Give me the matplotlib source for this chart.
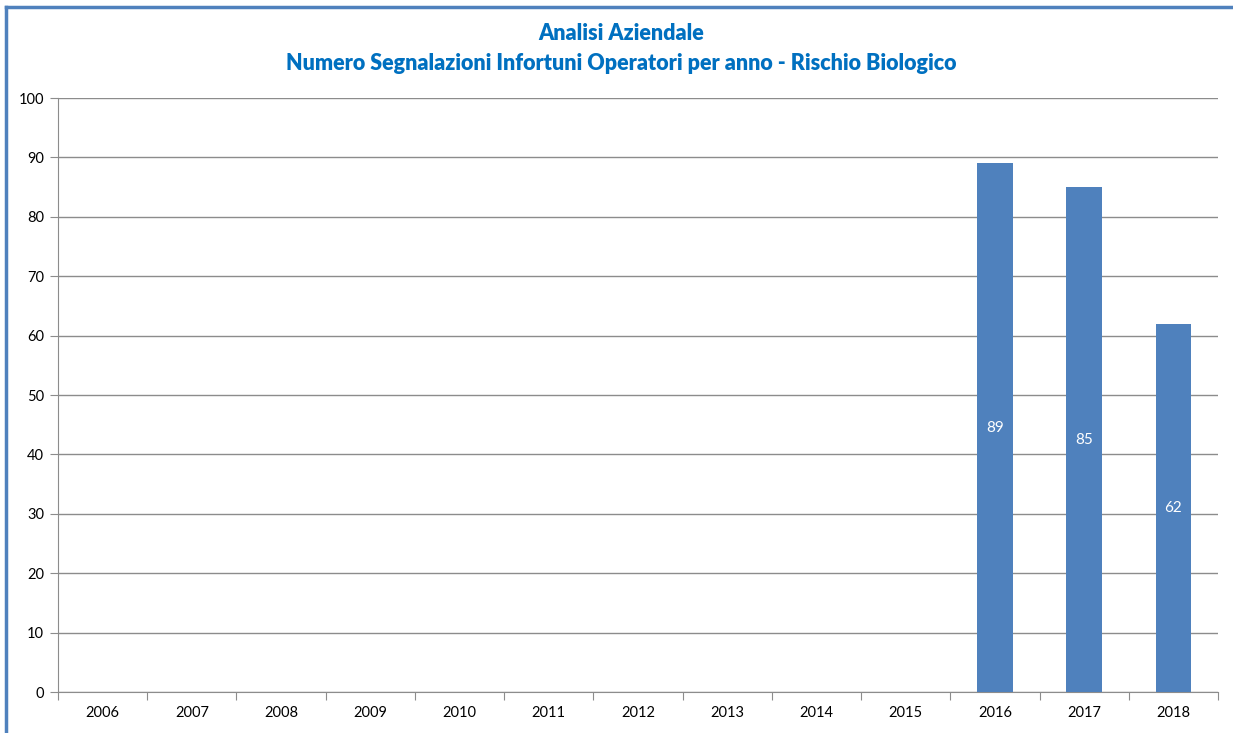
import matplotlib
matplotlib.use("Agg")
from matplotlib import pyplot as plt
from matplotlib.lines import Line2D
import numpy as np

# Data
years = ['2006', '2007', '2008', '2009', '2010', '2011', '2012',
         '2013', '2014', '2015', '2016', '2017', '2018']
counts = [0, 0, 0, 0, 0, 0, 0, 0, 0, 0, 89, 85, 62]

title_lines = ['Analisi Aziendale',
               'Numero Segnalazioni Infortuni Operatori per anno - Rischio Biologico']

plt.rcParams['font.family'] = ['Lato', 'DejaVu Sans']

W, H = 1233, 733
fig = plt.figure(figsize=(W / 100, H / 100), dpi=100)
ax = fig.add_axes([58 / W, 1 - 692 / H, (1218 - 58) / W, (692 - 98) / H])

x = np.arange(len(years))
bars = ax.bar(x, counts, width=0.4, color='#4F81BD', zorder=3)
labels = [str(c) if c > 0 else '' for c in counts]
ax.bar_label(bars, labels=labels, label_type='center', color='white', fontsize=11)

ax.set_xlim(-0.5, len(years) - 0.5)
ax.set_ylim(0, 100)
ax.set_yticks(range(0, 101, 10))
ax.yaxis.grid(True, color='#8c8c8c', linewidth=1, zorder=0)
ax.tick_params(axis='y', length=6, color='#8c8c8c', labelsize=10.5, pad=4)

# ticks at category boundaries, labels at centres
ax.set_xticks(np.arange(-0.5, len(years), 1.0))
ax.set_xticklabels([])
ax.set_xticks(x, minor=True)
ax.set_xticklabels(years, minor=True)
ax.tick_params(axis='x', which='major', length=6, color='#8c8c8c')
ax.tick_params(axis='x', which='minor', length=0, labelsize=10.5, pad=10)

for side in ['top', 'right']:
    ax.spines[side].set_visible(False)
for side in ['left', 'bottom']:
    ax.spines[side].set_color('#8c8c8c')

# titles
fig.text(621 / W, 1 - 34 / H, title_lines[0], ha='center', va='center',
         color='#0070C0', fontsize=15.5, fontweight='heavy')
fig.text(621 / W, 1 - 63 / H, title_lines[1], ha='center', va='center',
         color='#0070C0', fontsize=15.5, fontweight='heavy')

# blue frame (top & left edges)
fig.add_artist(Line2D([6 / W, 6 / W], [0, 1 - 7 / H], transform=fig.transFigure,
                      color='#4F81BD', linewidth=2.5))
fig.add_artist(Line2D([6 / W, 1], [1 - 7 / H, 1 - 7 / H], transform=fig.transFigure,
                      color='#4F81BD', linewidth=2.5))

fig.savefig('out.png', dpi=100)
